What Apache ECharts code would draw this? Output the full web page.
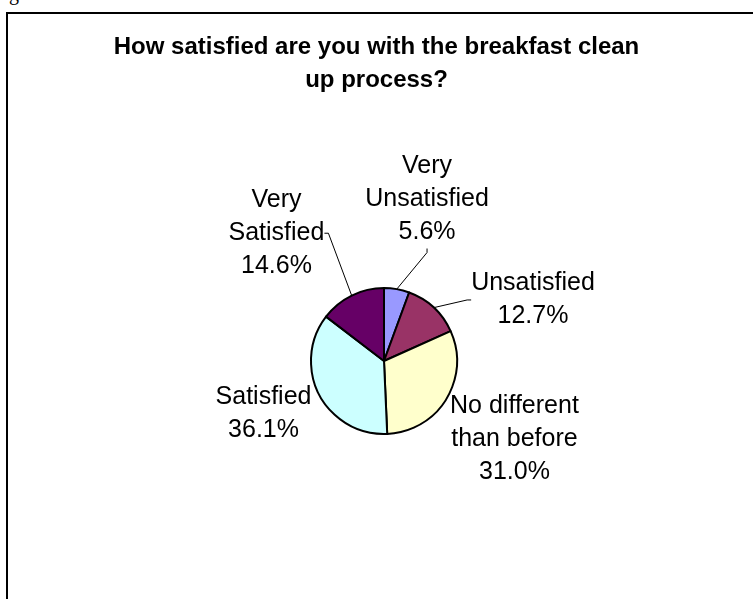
<!DOCTYPE html>
<html><head><meta charset="utf-8">
<script src="https://cdn.jsdelivr.net/npm/echarts@6/dist/echarts.min.js"></script>
<style>
html,body{margin:0;padding:0;background:#fff;overflow:hidden;width:753px;height:599px;}
#cap{position:absolute;left:9px;top:-17px;font:20px "Liberation Serif";line-height:20px;color:#000;}
#frame{position:absolute;left:6px;top:12px;width:800px;height:700px;border-left:2px solid #000;border-top:2px solid #000;}
#chart{position:absolute;left:0;top:0;width:753px;height:599px;}
</style></head><body>
<div id="cap">g</div>
<div id="frame"></div>
<div id="chart"></div>
<script>
// ---- data ----
const titleLines = ['How satisfied are you with the breakfast clean', 'up process?'];
const categories = ['Very Unsatisfied', 'Unsatisfied', 'No different than before', 'Satisfied', 'Very Satisfied'];
const labelNames = ['Very\nUnsatisfied', 'Unsatisfied', 'No different\nthan before', 'Satisfied', 'Very\nSatisfied'];
const percentages = [5.6, 12.7, 31.0, 36.1, 14.6];

// ---- styles ----
const sliceColors = ['#9999FF', '#993366', '#FFFFCC', '#CCFFFF', '#660066'];
const showLeader = [true, true, false, false, true];
// label placement: [distance of label centre from pie centre (px), angle shift from slice middle (deg)]
const labelPlacement = [[167.6, 4.8], [161, 24.7], [152, -0.8], [131.6, 3.8], [167, -13.8]];
const pieCenter = [384, 361];
const pieRadius = 73;
const FONT = '"Liberation Sans", Arial, sans-serif';

const total = percentages.reduce((a, b) => a + b, 0);
function midAngle(i) {
  let before = 0;
  for (let k = 0; k < i; k++) before += percentages[k];
  return (before + percentages[i] / 2) / total * 360;
}

const chart = echarts.init(document.getElementById('chart'), null, {renderer: 'canvas'});
chart.setOption({
  animation: false,
  backgroundColor: 'transparent',
  title: {
    text: titleLines.join('\n'),
    left: 'center',
    top: 31,
    padding: 0,
    textStyle: {fontFamily: FONT, fontSize: 24, fontWeight: 'bold', lineHeight: 33, color: '#000'}
  },
  series: [{
    type: 'pie',
    center: pieCenter,
    radius: pieRadius,
    startAngle: 90,
    clockwise: true,
    avoidLabelOverlap: false,
    emphasis: {disabled: true},
    itemStyle: {borderColor: '#000', borderWidth: 2},
    label: {
      show: true,
      position: 'outside',
      fontFamily: FONT,
      fontSize: 25,
      lineHeight: 33,
      color: '#000',
      formatter: p => labelNames[p.dataIndex] + '\n' + percentages[p.dataIndex].toFixed(1) + '%'
    },
    labelLine: {show: true, length: 10, length2: 4, lineStyle: {color: '#000', width: 1}},
    labelLayout: function (params) {
      const i = params.dataIndex;
      const mid = midAngle(i);
      const th = (mid + labelPlacement[i][1]) * Math.PI / 180;
      const d = labelPlacement[i][0];
      const x = pieCenter[0] + d * Math.sin(th);
      const y = pieCenter[1] - d * Math.cos(th);
      const res = {x: x, y: y, align: 'center', verticalAlign: 'middle'};
      if (showLeader[i]) {
        const m = mid * Math.PI / 180;
        const ax = pieCenter[0] + pieRadius * Math.sin(m);
        const ay = pieCenter[1] - pieRadius * Math.cos(m);
        const w = params.labelRect.width, h = params.labelRect.height;
        const tick = 4;
        const cands = [
          [x - w / 2, y, -1, 0], [x + w / 2, y, 1, 0],
          [x, y - h / 2, 0, -1], [x, y + h / 2, 0, 1]
        ];
        let best = null, bd = Infinity;
        cands.forEach(c => {
          const p1 = [c[0] + c[2] * tick, c[1] + c[3] * tick];
          const dd = Math.hypot(p1[0] - ax, p1[1] - ay);
          if (dd < bd) { bd = dd; best = [[ax, ay], p1, [c[0], c[1]]]; }
        });
        res.labelLinePoints = best;
      }
      return res;
    },
    data: categories.map((name, i) => ({
      name: name,
      value: percentages[i],
      itemStyle: {color: sliceColors[i]},
      labelLine: {show: showLeader[i]}
    }))
  }]
});
</script>
</body></html>
